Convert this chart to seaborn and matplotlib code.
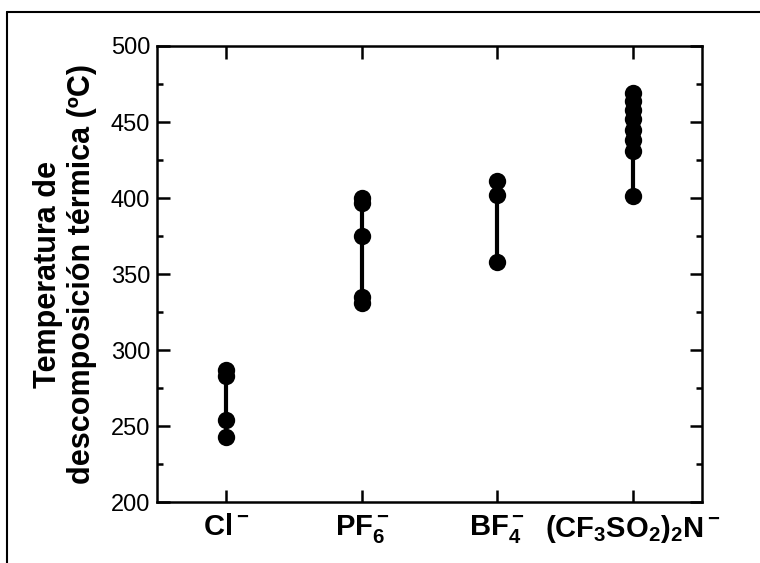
import pandas as pd
import seaborn as sns
import matplotlib.pyplot as plt
from matplotlib.lines import Line2D
from matplotlib.ticker import MultipleLocator

# anion labels and decomposition temperatures
anions = [r'$Cl^-$', r'$PF_6^-$', r'$BF_4^-$', r'$(CF_3SO_2)_2N^-$']
cl_temps = [287, 283, 254, 243]
pf6_temps = [400, 397, 375, 335, 331]
bf4_temps = [411, 402, 358]
tfsi_temps = [469, 464, 458, 452, 445, 438, 431, 401]
yticks = [200, 250, 300, 350, 400, 450, 500]

rows = []
for name, vals in zip(anions, [cl_temps, pf6_temps, bf4_temps, tfsi_temps]):
    for v in vals:
        rows.append({'anion': name, 'temp': v})
df = pd.DataFrame(rows)

sns.set_style("white")
plt.rcParams['font.family'] = ['Liberation Sans', 'DejaVu Sans']
plt.rcParams['text.color'] = 'black'
plt.rcParams['axes.labelcolor'] = 'black'
plt.rcParams['xtick.color'] = 'black'
plt.rcParams['ytick.color'] = 'black'
plt.rcParams['mathtext.fontset'] = 'custom'
plt.rcParams['mathtext.rm'] = 'Liberation Sans:bold'
plt.rcParams['mathtext.it'] = 'Liberation Sans:bold'
plt.rcParams['mathtext.bf'] = 'Liberation Sans:bold'
plt.rcParams['mathtext.default'] = 'rm'

fig = plt.figure(figsize=(7.6, 5.63), dpi=100)
ax = fig.add_axes([157 / 760, 61 / 563, 545 / 760, 456 / 563])

# range bars from min to max of each anion
rng = df.groupby('anion', sort=False)['temp'].agg(['min', 'max']).reindex(anions)
ax.vlines(range(len(anions)), rng['min'], rng['max'], color='black', lw=3, zorder=2)
sns.stripplot(data=df, x='anion', y='temp', order=anions, jitter=False,
              color='black', size=12.5, linewidth=0, ax=ax, zorder=3)

ax.set_xlim(-0.51, 3.51)
ax.set_ylim(200, 500)
ax.set_yticks(yticks)
ax.yaxis.set_minor_locator(MultipleLocator(25))
ax.set_xlabel('')
ax.set_ylabel('Temperatura de\ndescomposición térmica (ºC)', fontsize=22,
              fontweight='bold', linespacing=1.15, labelpad=10)

for s in ax.spines.values():
    s.set_linewidth(1.8)
    s.set_color('black')
ax.tick_params(axis='both', which='both', direction='in', color='black',
               width=1.8, top=True, right=True, left=True, bottom=True)
ax.tick_params(axis='both', which='major', length=9)
ax.tick_params(axis='y', which='minor', length=4.5)
ax.tick_params(axis='y', labelsize=17, pad=5)
ax.tick_params(axis='x', labelsize=21, pad=8)

# outer frame of the scanned figure
fig.add_artist(Line2D([7 / 760, 1], [1 - 12 / 563, 1 - 12 / 563], color='black', lw=1.5))
fig.add_artist(Line2D([7 / 760, 7 / 760], [0, 1 - 12 / 563], color='black', lw=1.5))

fig.savefig('out.png', dpi=100)
